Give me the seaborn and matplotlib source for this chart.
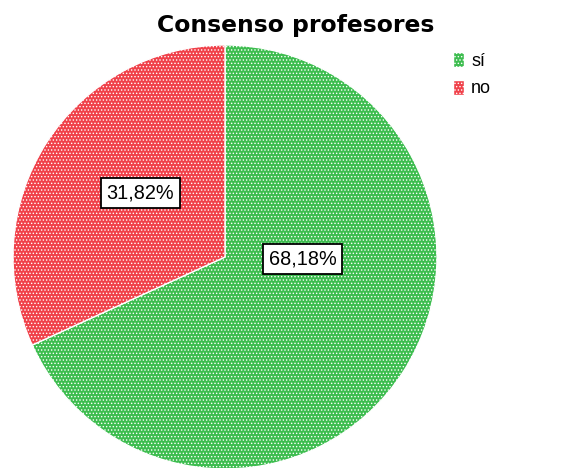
import matplotlib
matplotlib.use("Agg")
import matplotlib.pyplot as plt
import seaborn as sns
from matplotlib.patches import Patch

sns.set_theme(style="white")
plt.rcParams["font.family"] = ["Liberation Sans", "DejaVu Sans"]
plt.rcParams["text.color"] = "black"
plt.rcParams["hatch.linewidth"] = 0.6

# Data
categories = ["sí", "no"]
percentages = [68.18, 31.82]
label_texts = ["68,18%", "31,82%"]
colors = ["#3dbd4f", "#f0414a"]
title = "Consenso profesores"

W, H = 582, 468
fig = plt.figure(figsize=(W / 100, H / 100), dpi=100)

# pie centre and radius in pixels
cx, cy, r = 225, 257, 212
ax = fig.add_axes([(cx - r) / W, (H - cy - r) / H, 2 * r / W, 2 * r / H])

wedges, _ = ax.pie(
    percentages,
    colors=colors,
    startangle=90,
    counterclock=False,
    radius=1,
    wedgeprops=dict(edgecolor="white", linewidth=1.0, hatch="....."),
)
ax.set_xlim(-1, 1)
ax.set_ylim(-1, 1)
ax.set_aspect("equal")
ax.axis("off")

# value labels (in pie units)
label_pos = [(0.365, -0.01), (-0.40, 0.30)]
for txt, (x, y) in zip(label_texts, label_pos):
    ax.text(x, y, txt, ha="center", va="center", fontsize=14.3, color="black",
            bbox=dict(boxstyle="square,pad=0.28", facecolor="white",
                      edgecolor="black", linewidth=1.3))

fig.text(296 / W, 1 - 32 / H, title, ha="center", va="baseline",
         fontsize=16.9, fontweight="bold", family=["DejaVu Sans"], color="black")

handles = [Patch(facecolor=c, edgecolor="white", hatch=".....", label=l)
           for c, l in zip(colors, categories)]
leg = fig.legend(handles=handles, loc="upper left",
                 bbox_to_anchor=(453 / W, 1 - 52 / H), frameon=False,
                 fontsize=13, handlelength=0.6, handleheight=0.9,
                 handletextpad=0.4, labelspacing=0.55, borderaxespad=0,
                 borderpad=0)
for t in leg.get_texts():
    t.set_color("black")

fig.savefig("out.png", dpi=100)
